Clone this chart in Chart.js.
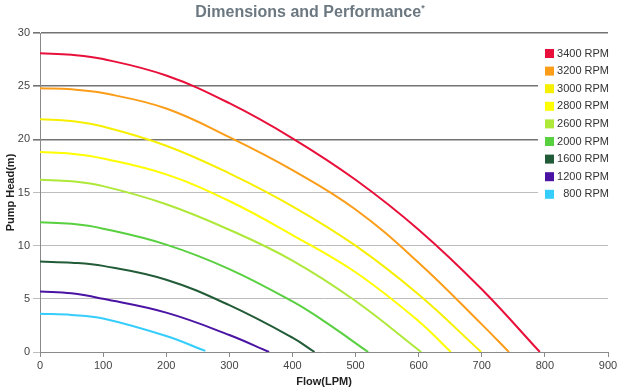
<!DOCTYPE html>
<html lang="en">
<head>
    <meta charset="UTF-8">
    <title>Dimensions and Performance</title>
    <script src="https://cdn.jsdelivr.net/npm/chart.js"></script>
    <style>
        body {
            margin: 0;
            background: #fff;
            font-family: "Liberation Sans", Arial, sans-serif;
        }
        #wrap {
            position: relative;
            width: 620px;
            height: 389px;
        }
        #title {
            position: absolute;
            top: 3px;
            left: 0;
            width: 620px;
            text-align: center;
            font-size: 16px;
            font-weight: bold;
            color: #6b7881;
        }
        #title sup {
            font-size: 9px;
        }
    </style>
</head>
<body>
<div id="wrap">
    <canvas id="pumpChart" width="620" height="389"></canvas>
    <div id="title">Dimensions and Performance<sup>*</sup></div>
</div>

<script>
    // curve readings: flow (LPM) and head (m) per speed
    const rpmLabels = ['3400 RPM', '3200 RPM', '3000 RPM', '2800 RPM', '2600 RPM', '2000 RPM', '1600 RPM', '1200 RPM', '800 RPM'];
    const rpmColors = ['#e8103a', '#fb9d18', '#f6f000', '#ffff00', '#aee838', '#58d03f', '#215b37', '#4a13a3', '#35cdfb'];

    const flow3400 = [0, 50, 100, 200, 300, 400, 500, 600, 700, 792];
    const head3400 = [28.1, 27.95, 27.55, 26.0, 23.4, 20.1, 16.2, 11.5, 5.9, 0];
    const flow3200 = [0, 50, 100, 200, 300, 400, 500, 600, 700, 743];
    const head3200 = [24.8, 24.7, 24.35, 22.9, 20.2, 17.1, 13.4, 8.4, 2.6, 0];
    const flow3000 = [0, 50, 100, 200, 300, 400, 500, 600, 699];
    const head3000 = [21.9, 21.72, 21.2, 19.4, 16.8, 13.7, 10.0, 5.4, 0];
    const flow2800 = [0, 50, 100, 200, 300, 400, 500, 600, 651];
    const head2800 = [18.8, 18.65, 18.2, 16.7, 14.2, 11.0, 7.5, 2.9, 0];
    const flow2600 = [0, 50, 100, 200, 300, 400, 500, 604];
    const head2600 = [16.2, 16.05, 15.6, 13.9, 11.5, 8.6, 4.8, 0];
    const flow2000 = [0, 50, 100, 200, 300, 400, 450, 520];
    const head2000 = [12.2, 12.05, 11.6, 10.1, 7.8, 4.75, 2.9, 0];
    const flow1600 = [0, 50, 100, 200, 300, 400, 435];
    const head1600 = [8.5, 8.4, 8.1, 6.8, 4.4, 1.35, 0];
    const flow1200 = [0, 50, 100, 200, 300, 363];
    const head1200 = [5.7, 5.52, 5.0, 3.7, 1.6, 0];
    const flow800 = [0, 50, 100, 200, 262];
    const head800 = [3.6, 3.49, 3.15, 1.5, 0.1];

    const flows = [flow3400, flow3200, flow3000, flow2800, flow2600, flow2000, flow1600, flow1200, flow800];
    const heads = [head3400, head3200, head3000, head2800, head2600, head2000, head1600, head1200, head800];

    const xTicks = [0, 100, 200, 300, 400, 500, 600, 700, 800, 900];
    const yTicks = [0, 5, 10, 15, 20, 25, 30];

    const datasets = rpmLabels.map((label, i) => ({
        label: label,
        data: flows[i].map((q, j) => ({ x: q, y: heads[i][j] })),
        borderColor: rpmColors[i],
        backgroundColor: rpmColors[i],
        borderWidth: 2,
        pointRadius: 0,
        showLine: true,
        tension: 0.4
    }));

    // legend drawn inside the plot, top right, on a white box
    const boxLegend = {
        id: 'boxLegend',
        beforeDatasetsDraw(chart) {
            const c = chart.ctx;
            c.save();
            c.fillStyle = '#fff';
            c.fillRect(538, 42, 76, 160);
            c.restore();
        },
        afterDraw(chart) {
            const c = chart.ctx;
            c.save();
            c.font = '11px "Liberation Sans", Arial, sans-serif';
            c.textBaseline = 'middle';
            c.textAlign = 'right';
            chart.data.datasets.forEach((ds, i) => {
                const y = 53.5 + i * 17.6;
                c.fillStyle = ds.borderColor;
                c.fillRect(545, y - 4.5, 9, 9);
                c.fillStyle = '#333';
                c.fillText(ds.label, 609, y);
            });
            c.restore();
        }
    };

    const ctx = document.getElementById('pumpChart').getContext('2d');
    new Chart(ctx, {
        type: 'scatter',
        data: { datasets: datasets },
        options: {
            responsive: false,
            animation: false,
            layout: { padding: { top: 33, right: 12, left: 4, bottom: 0 } },
            plugins: {
                legend: { display: false },
                tooltip: { enabled: false }
            },
            scales: {
                x: {
                    type: 'linear',
                    min: 0,
                    max: 900,
                    afterBuildTicks: s => { s.ticks = xTicks.map(v => ({ value: v })); },
                    afterFit: s => { s.height = 37; },
                    border: { color: '#8a8a8a', width: 1 },
                    grid: { drawOnChartArea: false, drawTicks: true, tickLength: 5, color: '#8a8a8a' },
                    ticks: { color: '#444', font: { size: 11 }, padding: 2, maxRotation: 0 },
                    title: {
                        display: true,
                        text: 'Flow(LPM)',
                        color: '#222',
                        font: { size: 11, weight: 'bold' },
                        padding: { top: 0, bottom: 0 }
                    }
                },
                y: {
                    min: 0,
                    max: 30,
                    afterBuildTicks: s => { s.ticks = yTicks.map(v => ({ value: v })); },
                    afterFit: s => { s.width = 36; },
                    border: { color: '#8a8a8a', width: 1 },
                    grid: {
                        tickLength: 7,
                        color: c => (c.tick && c.tick.value >= 20 ? '#737373' : '#bdbdbd'),
                        lineWidth: c => (c.tick && c.tick.value >= 20 ? 1.6 : 1)
                    },
                    ticks: { color: '#444', font: { size: 11 }, padding: 3 },
                    title: {
                        display: true,
                        text: 'Pump Head(m)',
                        color: '#222',
                        font: { size: 11, weight: 'bold' },
                        padding: { top: 0, bottom: 0 }
                    }
                }
            }
        },
        plugins: [boxLegend]
    });
</script>
</body>
</html>
